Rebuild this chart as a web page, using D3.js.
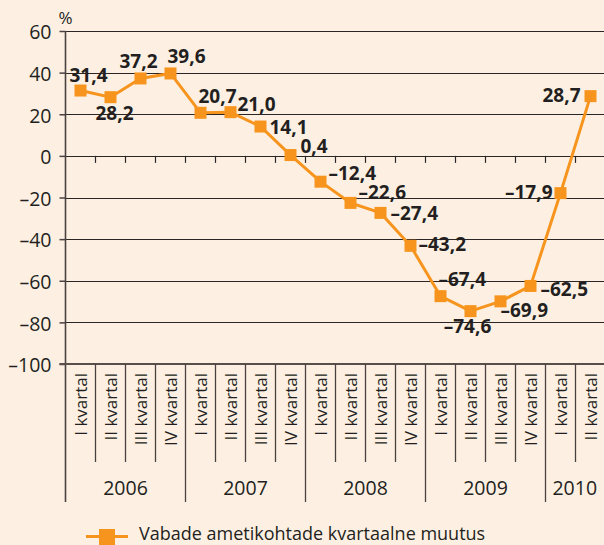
<!DOCTYPE html>
<html>
<head>
<meta charset="utf-8">
<script src="https://cdn.jsdelivr.net/npm/d3@7"></script>
<style>
  html, body { margin: 0; padding: 0; background: #fdf0e3; }
  svg { display: block; font-family: "Open Sans", "Noto Sans", sans-serif; }
</style>
</head>
<body>
<div id="graph-container"></div>
<script>
// Quarters and years
var quarters = ["I kvartal", "II kvartal", "III kvartal", "IV kvartal"];
var years = ["2006", "2007", "2008", "2009", "2010"];
var quartersPerYear = [4, 4, 4, 4, 2];

// Quarterly change of vacancies, %
var values = [31.4, 28.2, 37.2, 39.6, 20.7, 21.0, 14.1, 0.4, -12.4, -22.6, -27.4,
  -43.2, -67.4, -74.6, -69.9, -62.5, -17.9, 28.7];

var yTicks = [60, 40, 20, 0, -20, -40, -60, -80, -100];
var seriesName = "Vabade ametikohtade kvartaalne muutus";

// label placement next to each point: [dx, dy, anchor]
var labelPos = [
  [8, -9, "middle"], [4, 23, "middle"], [-2, -10, "middle"], [16, -10, "middle"],
  [17, -10, "middle"], [7, -1, "start"], [9, 7, "start"], [10, -2, "start"],
  [8, -2, "start"], [8, -4, "start"], [10, 7, "start"], [8, 5, "start"],
  [-2, -10, "start"], [-3, 22, "middle"], [0, 16, "start"], [10, 10, "start"],
  [-8, 6, "end"], [-10, 6, "end"]
];

// Build list of category keys
var cats = [];
years.forEach(function (y, i) {
  for (var q = 0; q < quartersPerYear[i]; q++) {
    cats.push({ key: y + "-" + q, year: y, quarter: quarters[q], q: q });
  }
});
var data = cats.map(function (c, i) { return { key: c.key, value: values[i] }; });

var svgWidth = 604;
var svgHeight = 545;
var orange = "#f7941d";
var ink = "#231f20";

var svg = d3.select("#graph-container")
  .append("svg")
  .attr("width", svgWidth)
  .attr("height", svgHeight);

svg.append("rect")
  .attr("width", svgWidth)
  .attr("height", svgHeight)
  .attr("fill", "#fdf0e3");

var xScale = d3.scaleBand()
  .domain(cats.map(function (c) { return c.key; }))
  .range([65.5, 605.5]);

var yScale = d3.scaleLinear()
  .domain([-100, 60])
  .range([364, 31]);

var left = 65.5;

// Gridlines
svg.append("g")
  .selectAll("line")
  .data(yTicks.filter(function (t) { return t !== -100; }))
  .enter()
  .append("line")
  .attr("x1", left)
  .attr("x2", svgWidth)
  .attr("y1", function (d) { return Math.round(yScale(d)) + 0.5; })
  .attr("y2", function (d) { return Math.round(yScale(d)) + 0.5; })
  .attr("stroke", "#2b2626")
  .attr("stroke-width", 1.2);

// Y axis
var yAxis = d3.axisLeft(yScale)
  .tickValues(yTicks)
  .tickSize(6)
  .tickFormat(function (d) { return String(d).replace("-", "\u2013"); });

var yg = svg.append("g")
  .attr("transform", "translate(" + left + ",0)")
  .call(yAxis);
yg.select(".domain").remove();
yg.selectAll(".tick line").attr("stroke", "#4a4240").attr("stroke-width", 1.5);
yg.selectAll(".tick text")
  .attr("x", -14)
  .attr("dy", "0.4em")
  .attr("fill", ink)
  .style("font-size", "19.5px")
  .style("font-family", "'Open Sans', sans-serif");

// left axis line
svg.append("line")
  .attr("x1", left).attr("x2", left)
  .attr("y1", yScale(60)).attr("y2", 502)
  .attr("stroke", "#4a4240").attr("stroke-width", 1.6);

// Bottom (-100) line
svg.append("line")
  .attr("x1", left - 6).attr("x2", svgWidth)
  .attr("y1", yScale(-100)).attr("y2", yScale(-100))
  .attr("stroke", "#5a4e4a").attr("stroke-width", 2);

// Small ticks on zero line
svg.append("g")
  .selectAll("line")
  .data(cats.slice(1))
  .enter()
  .append("line")
  .attr("x1", function (c) { return xScale(c.key); })
  .attr("x2", function (c) { return xScale(c.key); })
  .attr("y1", yScale(0))
  .attr("y2", yScale(0) + 7)
  .attr("stroke", "#2b2626")
  .attr("stroke-width", 1.2);

// Separators below the plot
svg.append("g")
  .selectAll("line")
  .data(cats.slice(1))
  .enter()
  .append("line")
  .attr("x1", function (c) { return xScale(c.key); })
  .attr("x2", function (c) { return xScale(c.key); })
  .attr("y1", yScale(-100))
  .attr("y2", function (c) { return c.q === 0 ? 502 : 462; })
  .attr("stroke", "#4a4240")
  .attr("stroke-width", 1.3);

// Quarter labels (rotated)
svg.append("g")
  .selectAll("text")
  .data(cats)
  .enter()
  .append("text")
  .attr("transform", function (c) {
    return "translate(" + (xScale(c.key) + xScale.bandwidth() / 2 + 6) + ",373) rotate(-90)";
  })
  .attr("text-anchor", "end")
  .attr("fill", ink)
  .style("font-size", "17px")
  .text(function (c) { return c.quarter; });

// Year labels
svg.append("g")
  .selectAll("text")
  .data(years)
  .enter()
  .append("text")
  .attr("x", function (y) {
    var ks = cats.filter(function (c) { return c.year === y; });
    var x0 = xScale(ks[0].key);
    var x1 = xScale(ks[ks.length - 1].key) + xScale.bandwidth();
    return (x0 + Math.min(x1, svgWidth)) / 2;
  })
  .attr("y", 495)
  .attr("text-anchor", "middle")
  .attr("fill", ink)
  .style("font-size", "19.5px")
  .text(function (y) { return y; });

// "%" label
svg.append("text")
  .attr("x", left)
  .attr("y", 24)
  .attr("text-anchor", "middle")
  .attr("fill", ink)
  .style("font-size", "17px")
  .text("%");

// Line
var line = d3.line()
  .x(function (d) { return xScale(d.key) + xScale.bandwidth() / 2; })
  .y(function (d) { return yScale(d.value); });

svg.append("path")
  .datum(data)
  .attr("d", line)
  .attr("fill", "none")
  .attr("stroke", orange)
  .attr("stroke-width", 3);

// Markers
var ms = 12;
svg.append("g")
  .selectAll("rect")
  .data(data)
  .enter()
  .append("rect")
  .attr("x", function (d) { return xScale(d.key) + xScale.bandwidth() / 2 - ms / 2; })
  .attr("y", function (d) { return yScale(d.value) - ms / 2; })
  .attr("width", ms)
  .attr("height", ms)
  .attr("fill", orange);

// Value labels
function fmt(v) {
  return v.toFixed(1).replace(".", ",").replace("-", "\u2013");
}
svg.append("g")
  .selectAll("text")
  .data(data)
  .enter()
  .append("text")
  .attr("x", function (d, i) { return xScale(d.key) + xScale.bandwidth() / 2 + labelPos[i][0]; })
  .attr("y", function (d, i) { return yScale(d.value) + labelPos[i][1]; })
  .attr("text-anchor", function (d, i) { return labelPos[i][2]; })
  .attr("fill", ink)
  .style("font-size", "19px")
  .style("font-weight", "bold")
  .text(function (d) { return fmt(d.value); });

// Legend
var lg = svg.append("g");
lg.append("line")
  .attr("x1", 86).attr("x2", 128)
  .attr("y1", 536.5).attr("y2", 536.5)
  .attr("stroke", orange).attr("stroke-width", 3);
lg.append("rect")
  .attr("x", 99).attr("y", 529)
  .attr("width", 16).attr("height", 16)
  .attr("fill", orange);
lg.append("text")
  .attr("x", 139).attr("y", 540)
  .attr("fill", ink)
  .style("font-size", "18px")
  .text(seriesName);
</script>
</body>
</html>
